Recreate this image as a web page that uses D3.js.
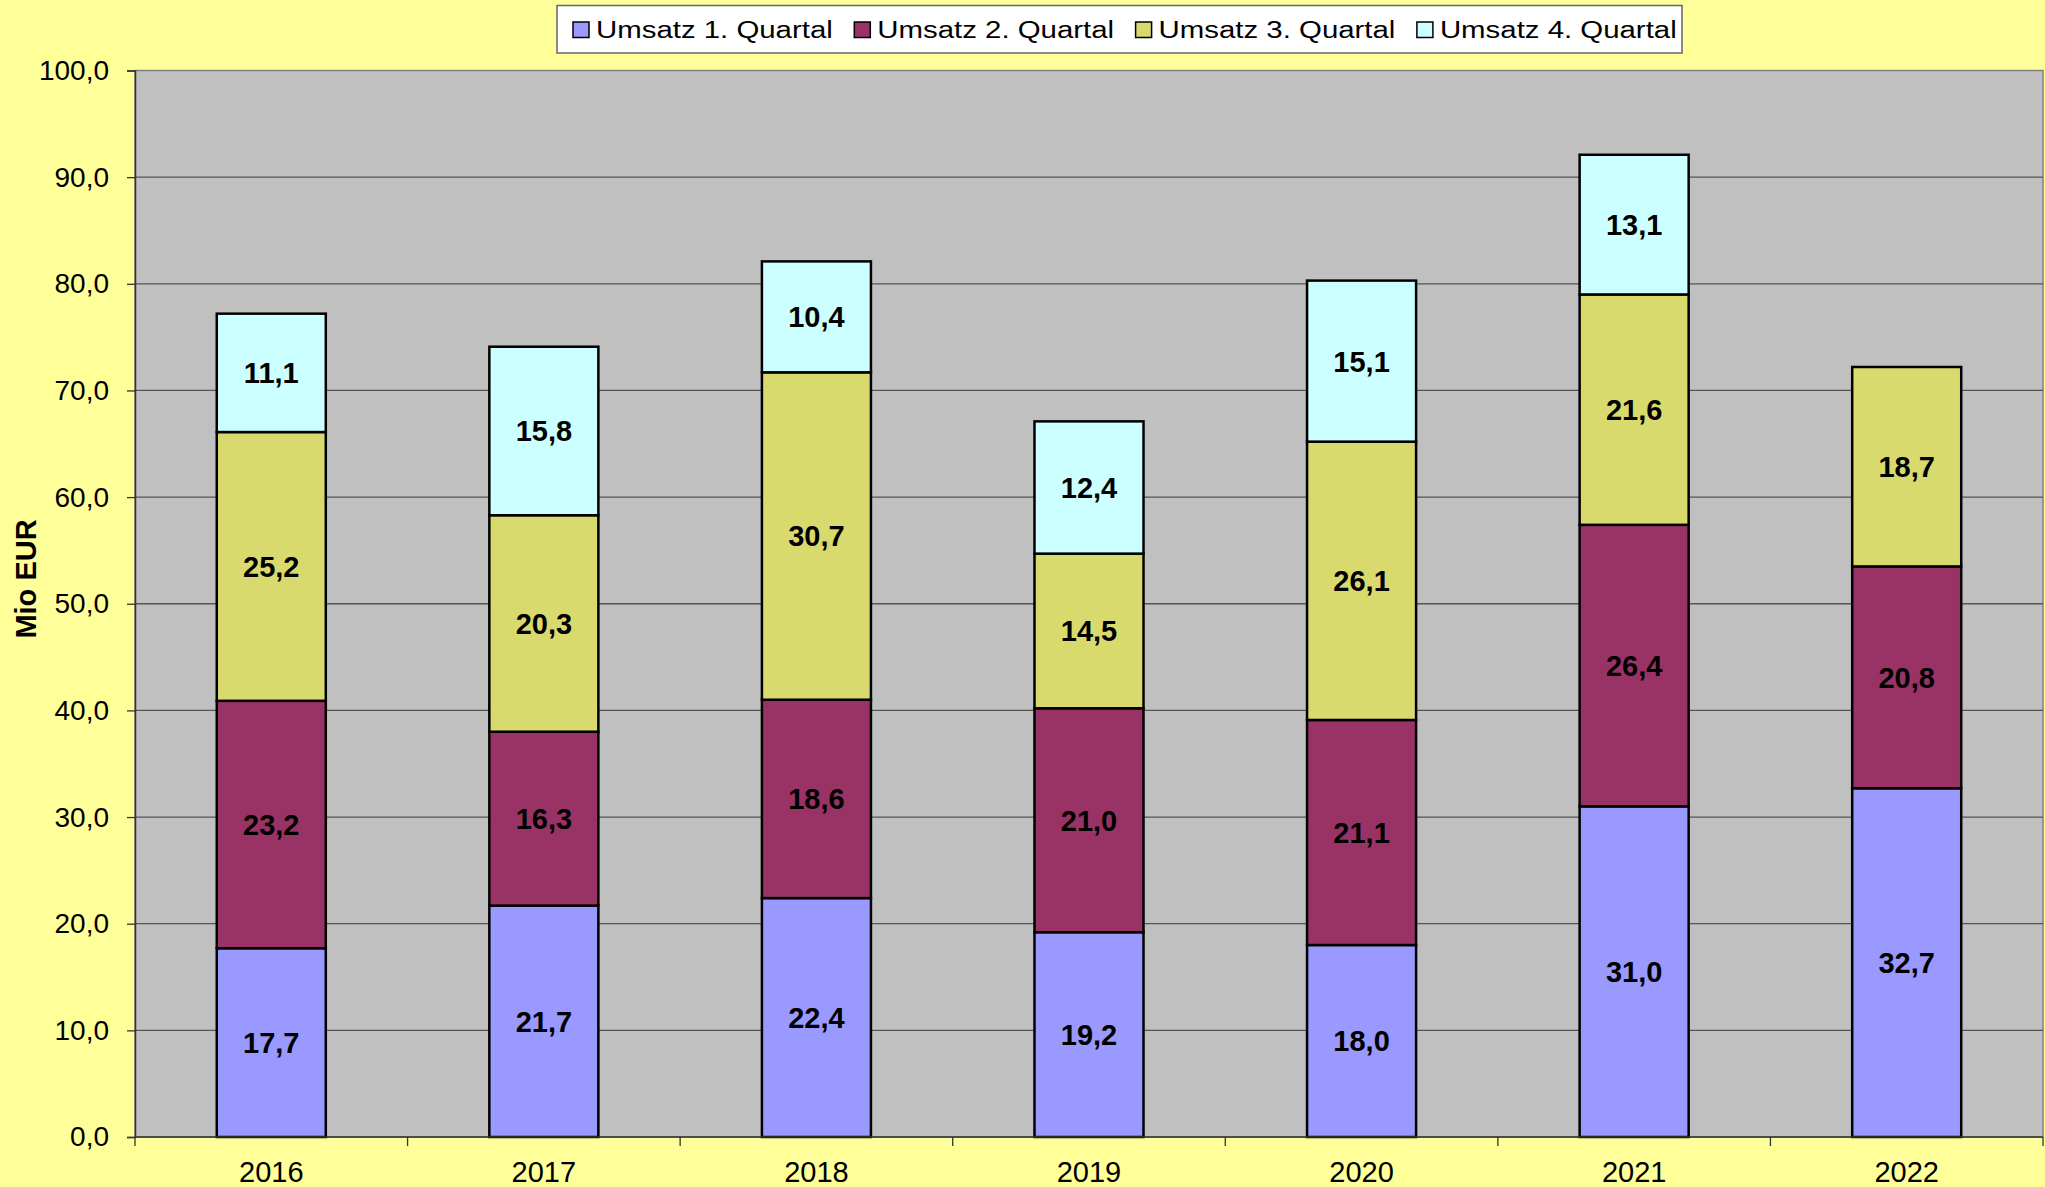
<!DOCTYPE html>
<html>
<head>
  <meta charset='utf-8'>
  <style>
  body { margin: 0; background: #ffff99; }
  svg { display: block; font-family: Arial, 'Liberation Sans', sans-serif; }
  .grid line { stroke: #555; stroke-width: 1.3px; }
  .label { font-weight: bold; font-size: 29px; fill: #000; text-anchor: middle; }
  </style>
</head>
<body>
<script src='https://d3js.org/d3.v7.min.js'></script>
<script>

var years = ['2016', '2017', '2018', '2019', '2020', '2021', '2022'];
var seriesNames = ['Umsatz 1. Quartal', 'Umsatz 2. Quartal', 'Umsatz 3. Quartal', 'Umsatz 4. Quartal'];
var q1 = [17.7, 21.7, 22.4, 19.2, 18.0, 31.0, 32.7];
var q2 = [23.2, 16.3, 18.6, 21.0, 21.1, 26.4, 20.8];
var q3 = [25.2, 20.3, 30.7, 14.5, 26.1, 21.6, 18.7];
var q4 = [11.1, 15.8, 10.4, 12.4, 15.1, 13.1, 0];
var colors = ['#9999ff', '#993366', '#d9da6d', '#ccffff'];
var yTicks = [0, 10, 20, 30, 40, 50, 60, 70, 80, 90, 100];

var WIDTH = 2045, HEIGHT = 1187;
var margin = {top: 70.5, right: 2, bottom: 50, left: 135};
var width = WIDTH - margin.left - margin.right,
    height = HEIGHT - margin.top - margin.bottom;

var svg = d3.select('body').append('svg')
    .attr('width', WIDTH).attr('height', HEIGHT);

svg.append('rect').attr('width', WIDTH).attr('height', HEIGHT).attr('fill', '#ffff99');

var g = svg.append('g').attr('transform', 'translate(' + margin.left + ',' + margin.top + ')');

var x = d3.scaleBand().domain(years).range([0, width]).paddingInner(0.6).paddingOuter(0.3);
var y = d3.scaleLinear().domain([0, 100]).range([height, 0]);
var fmt = function(v) { return d3.format('.1f')(v).replace('.', ','); };

// plot area
g.append('rect')
    .attr('width', width).attr('height', height)
    .attr('fill', '#c0c0c0')
    .attr('stroke', '#808080').attr('stroke-width', 1.5);

g.append('g')
    .attr('class', 'grid')
  .selectAll('line')
  .data(yTicks.slice(1, -1))
  .enter().append('line')
    .attr('x1', 0).attr('x2', width)
    .attr('y1', function(d) { return y(d); })
    .attr('y2', function(d) { return y(d); });

// stacked data
var table = years.map(function(yr, i) {
  return {year: yr, s0: q1[i], s1: q2[i], s2: q3[i], s3: q4[i]};
});
var stack = d3.stack().keys(['s0', 's1', 's2', 's3']);
var layers = stack(table);

var layer = g.selectAll('.layer')
  .data(layers)
  .enter().append('g')
    .attr('class', 'layer')
    .attr('fill', function(d, i) { return colors[i]; });

layer.selectAll('rect')
  .data(function(d) { return d.filter(function(p) { return p[1] - p[0] > 0; }); })
  .enter().append('rect')
    .attr('x', function(d) { return x(d.data.year); })
    .attr('width', x.bandwidth())
    .attr('y', function(d) { return y(d[1]); })
    .attr('height', function(d) { return y(d[0]) - y(d[1]); })
    .attr('stroke', '#000')
    .attr('stroke-width', 2.5);

layer.selectAll('text')
  .data(function(d) { return d.filter(function(p) { return p[1] - p[0] > 0; }); })
  .enter().append('text')
    .attr('class', 'label')
    .attr('x', function(d) { return x(d.data.year) + x.bandwidth() / 2; })
    .attr('y', function(d) { return y((d[0] + d[1]) / 2); })
    .attr('dy', '0.36em')
    .text(function(d) { return fmt(d[1] - d[0]); });

// axes
var yAxis = g.append('g')
    .call(d3.axisLeft(y).tickValues(yTicks).tickSize(8).tickPadding(18).tickFormat(fmt));
yAxis.select('.domain').attr('stroke', '#333').attr('stroke-width', 1.5);
yAxis.selectAll('.tick line').attr('stroke', '#333').attr('stroke-width', 1.3);
yAxis.selectAll('text').attr('font-size', '28px').attr('font-family', 'Arial, Liberation Sans, sans-serif').attr('fill', '#000');

var xEdge = d3.scaleLinear().domain([0, years.length]).range([0, width]);
var xAxis = g.append('g')
    .attr('transform', 'translate(0,' + height + ')');
xAxis.append('line')
    .attr('x1', 0).attr('x2', width)
    .attr('stroke', '#333').attr('stroke-width', 1.5);
xAxis.selectAll('.xtick')
  .data(d3.range(years.length + 1))
  .enter().append('line')
    .attr('class', 'xtick')
    .attr('x1', function(d) { return xEdge(d); })
    .attr('x2', function(d) { return xEdge(d); })
    .attr('y1', 0).attr('y2', 9)
    .attr('stroke', '#333').attr('stroke-width', 1.3);
xAxis.selectAll('.xlabel')
  .data(years)
  .enter().append('text')
    .attr('class', 'xlabel')
    .attr('x', function(d) { return x(d) + x.bandwidth() / 2; })
    .attr('y', 44.5)
    .attr('text-anchor', 'middle')
    .attr('font-size', '29px')
    .text(function(d) { return d; });

svg.append('text')
    .attr('transform', 'translate(36,579) rotate(-90)')
    .attr('text-anchor', 'middle')
    .attr('font-weight', 'bold')
    .attr('font-size', '29px')
    .text('Mio EUR');

// legend
var legend = svg.append('g').attr('transform', 'translate(557,5.5)');
legend.append('rect')
    .attr('width', 1125).attr('height', 47.5)
    .attr('fill', '#fff').attr('stroke', '#666').attr('stroke-width', 1.5);

var item = legend.selectAll('.item')
  .data(seriesNames)
  .enter().append('g')
    .attr('class', 'item')
    .attr('transform', function(d, i) { return 'translate(' + (16 + i * 281.3) + ',0)'; });
item.append('rect')
    .attr('y', 16.5).attr('width', 16).attr('height', 15.5)
    .attr('fill', function(d, i) { return colors[i]; })
    .attr('stroke', '#000').attr('stroke-width', 1.5);
item.append('text')
    .attr('transform', 'translate(23,32.5) scale(1.2,1)')
    .attr('font-size', '24.5px')
    .text(function(d) { return d; });

</script>
</body>
</html>
